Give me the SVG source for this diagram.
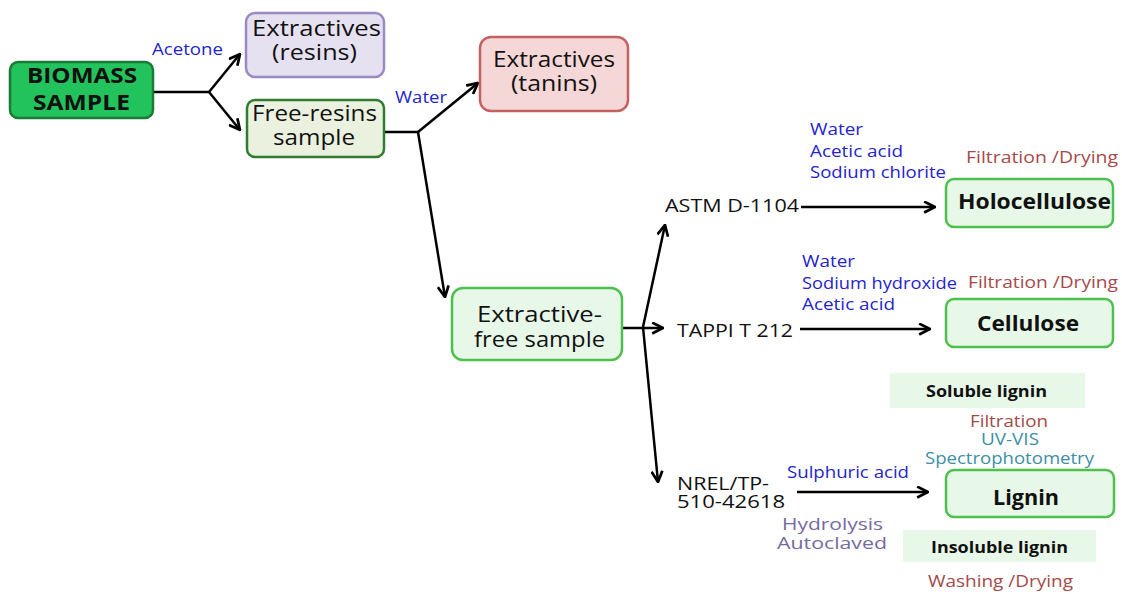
<svg xmlns="http://www.w3.org/2000/svg" width="1122" height="594" viewBox="0 0 1122 594">
<defs>
<marker id="ah" viewBox="0 0 12 12" refX="11" refY="6" markerWidth="13" markerHeight="13" markerUnits="userSpaceOnUse" orient="auto">
<path d="M1,1 L11,6 L1,11" fill="none" stroke="#000" stroke-width="2.5" stroke-linejoin="miter"/>
</marker>
<style>
text{font-family:"Open Sans","Liberation Sans",sans-serif;fill:#111}
.b{font-weight:bold}
.box{font-size:21px}
.lbl{font-size:16.5px;fill:#2424cc}
.red{font-size:16px;fill:#a44a4a}
.teal{font-size:16px;fill:#3d8fa3}
.pur{font-size:16.5px;fill:#76699f}
.m{font-size:19px}
.res{font-size:22px;font-weight:bold}
.sub{font-size:16px;font-weight:bold}
.ln{fill:none;stroke:#000;stroke-width:2.5}
</style>
</defs>
<rect width="1122" height="594" fill="#fff"/>
<g id="connectors">
<path class="ln" d="M153,92 H209"/>
<path class="ln" d="M209,92 L240,54" marker-end="url(#ah)"/>
<path class="ln" d="M209,92 L240,130" marker-end="url(#ah)"/>
<path class="ln" d="M384,132 H418"/>
<path class="ln" d="M418,132 L478,83" marker-end="url(#ah)"/>
<path class="ln" d="M418,132 L445,297" marker-end="url(#ah)"/>
<path class="ln" d="M622,328 H663" marker-end="url(#ah)"/>
<path class="ln" d="M643,327 L665,225" marker-end="url(#ah)"/>
<path class="ln" d="M643,327 L658,482" marker-end="url(#ah)"/>
<path class="ln" d="M801,207 H935" marker-end="url(#ah)"/>
<path class="ln" d="M800,329 H930" marker-end="url(#ah)"/>
<path class="ln" d="M797,492 H928" marker-end="url(#ah)"/>
</g>
<g id="labels">
<text class="lbl" x="152" y="55" textLength="71" lengthAdjust="spacingAndGlyphs">Acetone</text>
<text class="lbl" x="395" y="103" textLength="52" lengthAdjust="spacingAndGlyphs">Water</text>
<text class="lbl" x="810" y="135" textLength="53" lengthAdjust="spacingAndGlyphs">Water</text>
<text class="lbl" x="810" y="157" textLength="93" lengthAdjust="spacingAndGlyphs">Acetic acid</text>
<text class="lbl" x="810" y="178" textLength="136" lengthAdjust="spacingAndGlyphs">Sodium chlorite</text>
<text class="red" x="966" y="163" textLength="152" lengthAdjust="spacingAndGlyphs">Filtration /Drying</text>
<text class="lbl" x="802" y="267" textLength="53" lengthAdjust="spacingAndGlyphs">Water</text>
<text class="lbl" x="802" y="289" textLength="155" lengthAdjust="spacingAndGlyphs">Sodium hydroxide</text>
<text class="lbl" x="802" y="310" textLength="93" lengthAdjust="spacingAndGlyphs">Acetic acid</text>
<text class="red" x="968" y="288" textLength="150" lengthAdjust="spacingAndGlyphs">Filtration /Drying</text>
<text class="red" x="970" y="427" textLength="78" lengthAdjust="spacingAndGlyphs">Filtration</text>
<text class="teal" x="981" y="445" textLength="58" lengthAdjust="spacingAndGlyphs">UV-VIS</text>
<text class="teal" x="925" y="464" textLength="169" lengthAdjust="spacingAndGlyphs">Spectrophotometry</text>
<text class="lbl" x="787" y="478" textLength="122" lengthAdjust="spacingAndGlyphs">Sulphuric acid</text>
<text class="pur" x="782" y="530" textLength="101" lengthAdjust="spacingAndGlyphs">Hydrolysis</text>
<text class="pur" x="777" y="549" textLength="110" lengthAdjust="spacingAndGlyphs">Autoclaved</text>
<text class="red" x="928" y="587" textLength="145" lengthAdjust="spacingAndGlyphs">Washing /Drying</text>
</g>
<g id="biomass">
<rect x="10" y="62" width="143" height="56" rx="8" fill="#22c35c" stroke="#1b7a33" stroke-width="2.5"/>
<text class="box b" x="27" y="83" textLength="110" lengthAdjust="spacingAndGlyphs">BIOMASS</text>
<text class="box b" x="33" y="110" textLength="97" lengthAdjust="spacingAndGlyphs">SAMPLE</text>
</g>
<g id="resins">
<rect x="246" y="13" width="138" height="64" rx="9" fill="#e6e1f1" stroke="#9b89c1" stroke-width="2.5"/>
<text class="box" x="252" y="36" textLength="129" lengthAdjust="spacingAndGlyphs">Extractives</text>
<text class="box" x="272" y="60" textLength="85" lengthAdjust="spacingAndGlyphs">(resins)</text>
</g>
<g id="freeresins">
<rect x="247" y="100" width="137" height="57" rx="8" fill="#ebf1df" stroke="#2f7b2f" stroke-width="2.5"/>
<text class="box" x="252" y="121" textLength="125" lengthAdjust="spacingAndGlyphs">Free-resins</text>
<text class="box" x="273" y="145" textLength="82" lengthAdjust="spacingAndGlyphs">sample</text>
</g>
<g id="tanins">
<rect x="480" y="37" width="148" height="74" rx="11" fill="#f5d7d7" stroke="#c46262" stroke-width="2.5"/>
<text class="box" x="493" y="67" textLength="122" lengthAdjust="spacingAndGlyphs">Extractives</text>
<text class="box" x="511" y="91" textLength="86" lengthAdjust="spacingAndGlyphs">(tanins)</text>
</g>
<g id="extractivefree">
<rect x="452" y="288" width="170" height="72" rx="11" fill="#e8f8e8" stroke="#4dc04d" stroke-width="2.5"/>
<text class="box" x="477" y="322" textLength="125" lengthAdjust="spacingAndGlyphs">Extractive-</text>
<text class="box" x="474" y="347" textLength="131" lengthAdjust="spacingAndGlyphs">free sample</text>
</g>
<g id="astm">
<text class="m" x="665" y="212" textLength="134" lengthAdjust="spacingAndGlyphs">ASTM D-1104</text>
</g>
<g id="tappi">
<text class="m" x="677" y="337" textLength="116" lengthAdjust="spacingAndGlyphs">TAPPI T 212</text>
</g>
<g id="nrel">
<text class="m" x="677" y="490" textLength="92" lengthAdjust="spacingAndGlyphs">NREL/TP-</text>
<text class="m" x="677" y="508" textLength="108" lengthAdjust="spacingAndGlyphs">510-42618</text>
</g>
<g id="holocellulose">
<rect x="946" y="179" width="167" height="48" rx="8" fill="#e8f8e8" stroke="#4dc04d" stroke-width="2.5"/>
<text class="res" x="958" y="209" textLength="153" lengthAdjust="spacingAndGlyphs">Holocellulose</text>
</g>
<g id="cellulose">
<rect x="946" y="299" width="167" height="48" rx="8" fill="#e8f8e8" stroke="#4dc04d" stroke-width="2.5"/>
<text class="res" x="977" y="331" textLength="102" lengthAdjust="spacingAndGlyphs">Cellulose</text>
</g>
<g id="lignin">
<rect x="946" y="470" width="168" height="47" rx="8" fill="#e8f8e8" stroke="#4dc04d" stroke-width="2.5"/>
<text class="res" x="993" y="505" textLength="66" lengthAdjust="spacingAndGlyphs">Lignin</text>
</g>
<g id="soluble">
<rect x="890" y="373" width="195" height="35" fill="#e8f8e8"/>
<text class="sub" x="926" y="397" textLength="121" lengthAdjust="spacingAndGlyphs">Soluble lignin</text>
</g>
<g id="insoluble">
<rect x="903" y="530" width="193" height="32" fill="#e8f8e8"/>
<text class="sub" x="931" y="553" textLength="137" lengthAdjust="spacingAndGlyphs">Insoluble lignin</text>
</g>
</svg>
